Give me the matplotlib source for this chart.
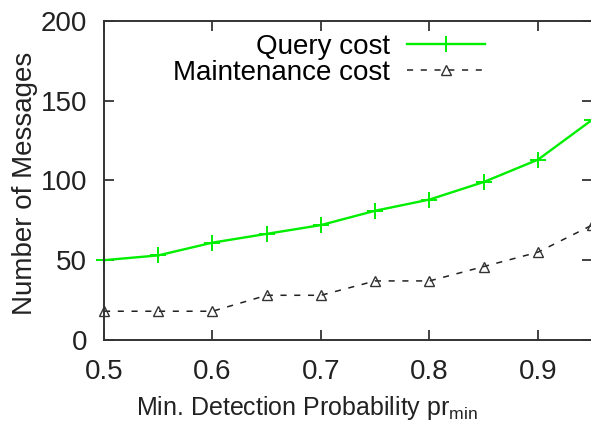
import matplotlib
matplotlib.use("Agg")
import matplotlib.pyplot as plt

# Minimum detection probability values
pr_min = [0.5, 0.55, 0.6, 0.65, 0.7, 0.75, 0.8, 0.85, 0.9, 0.95]
query_cost = [50, 53, 61, 66.5, 72, 81, 88, 99, 113, 138]
maintenance_cost = [18, 18, 18, 28, 28, 37, 37, 46, 55, 72]

x_ticks = [0.5, 0.6, 0.7, 0.8, 0.9]
y_ticks = [0, 50, 100, 150, 200]

plt.rcParams["font.family"] = ["Liberation Sans", "DejaVu Sans"]

fig = plt.figure(figsize=(5.91, 4.26), dpi=100)
ax = fig.add_axes([0.176, 0.202, 0.826, 0.749])

ax.plot(pr_min, query_cost, color="#00ee00", lw=1.7, marker="+",
        markersize=12, markeredgewidth=1.4, label="Query cost", clip_on=False)
ax.plot(pr_min, maintenance_cost, color="#222222", lw=1.1, dashes=(4, 5),
        marker="^", markersize=7, markerfacecolor="none",
        markeredgecolor="#333333", markeredgewidth=1.0,
        label="Maintenance cost", clip_on=False)

ax.set_xlim(0.5, 0.95)
ax.set_ylim(0, 200)
ax.set_xticks(x_ticks)
ax.set_xticklabels([f"{v:.1f}" for v in x_ticks])
ax.set_yticks(y_ticks)

ax.tick_params(direction="in", length=7, width=1.2, top=True, right=True,
               labelsize=20, colors="#222222")
ax.tick_params(axis="x", pad=14)
ax.tick_params(axis="y", pad=12)
for s in ax.spines.values():
    s.set_linewidth(1.4)
    s.set_color("#333333")

ax.set_xlabel("Min. Detection Probability pr$_{\\mathregular{min}}$",
              fontsize=18, color="#222222")
ax.xaxis.set_label_coords(0.416, -0.17)
ax.set_ylabel("Number of Messages", fontsize=20, color="#222222")
ax.yaxis.set_label_coords(-0.135, 0.49)

ax.legend(loc="upper right", bbox_to_anchor=(0.825, 1.03), frameon=False,
          markerfirst=False, fontsize=20, handlelength=2.8, handletextpad=0.6,
          labelspacing=0.0, borderpad=0.3)

fig.savefig("out.png", dpi=100)
